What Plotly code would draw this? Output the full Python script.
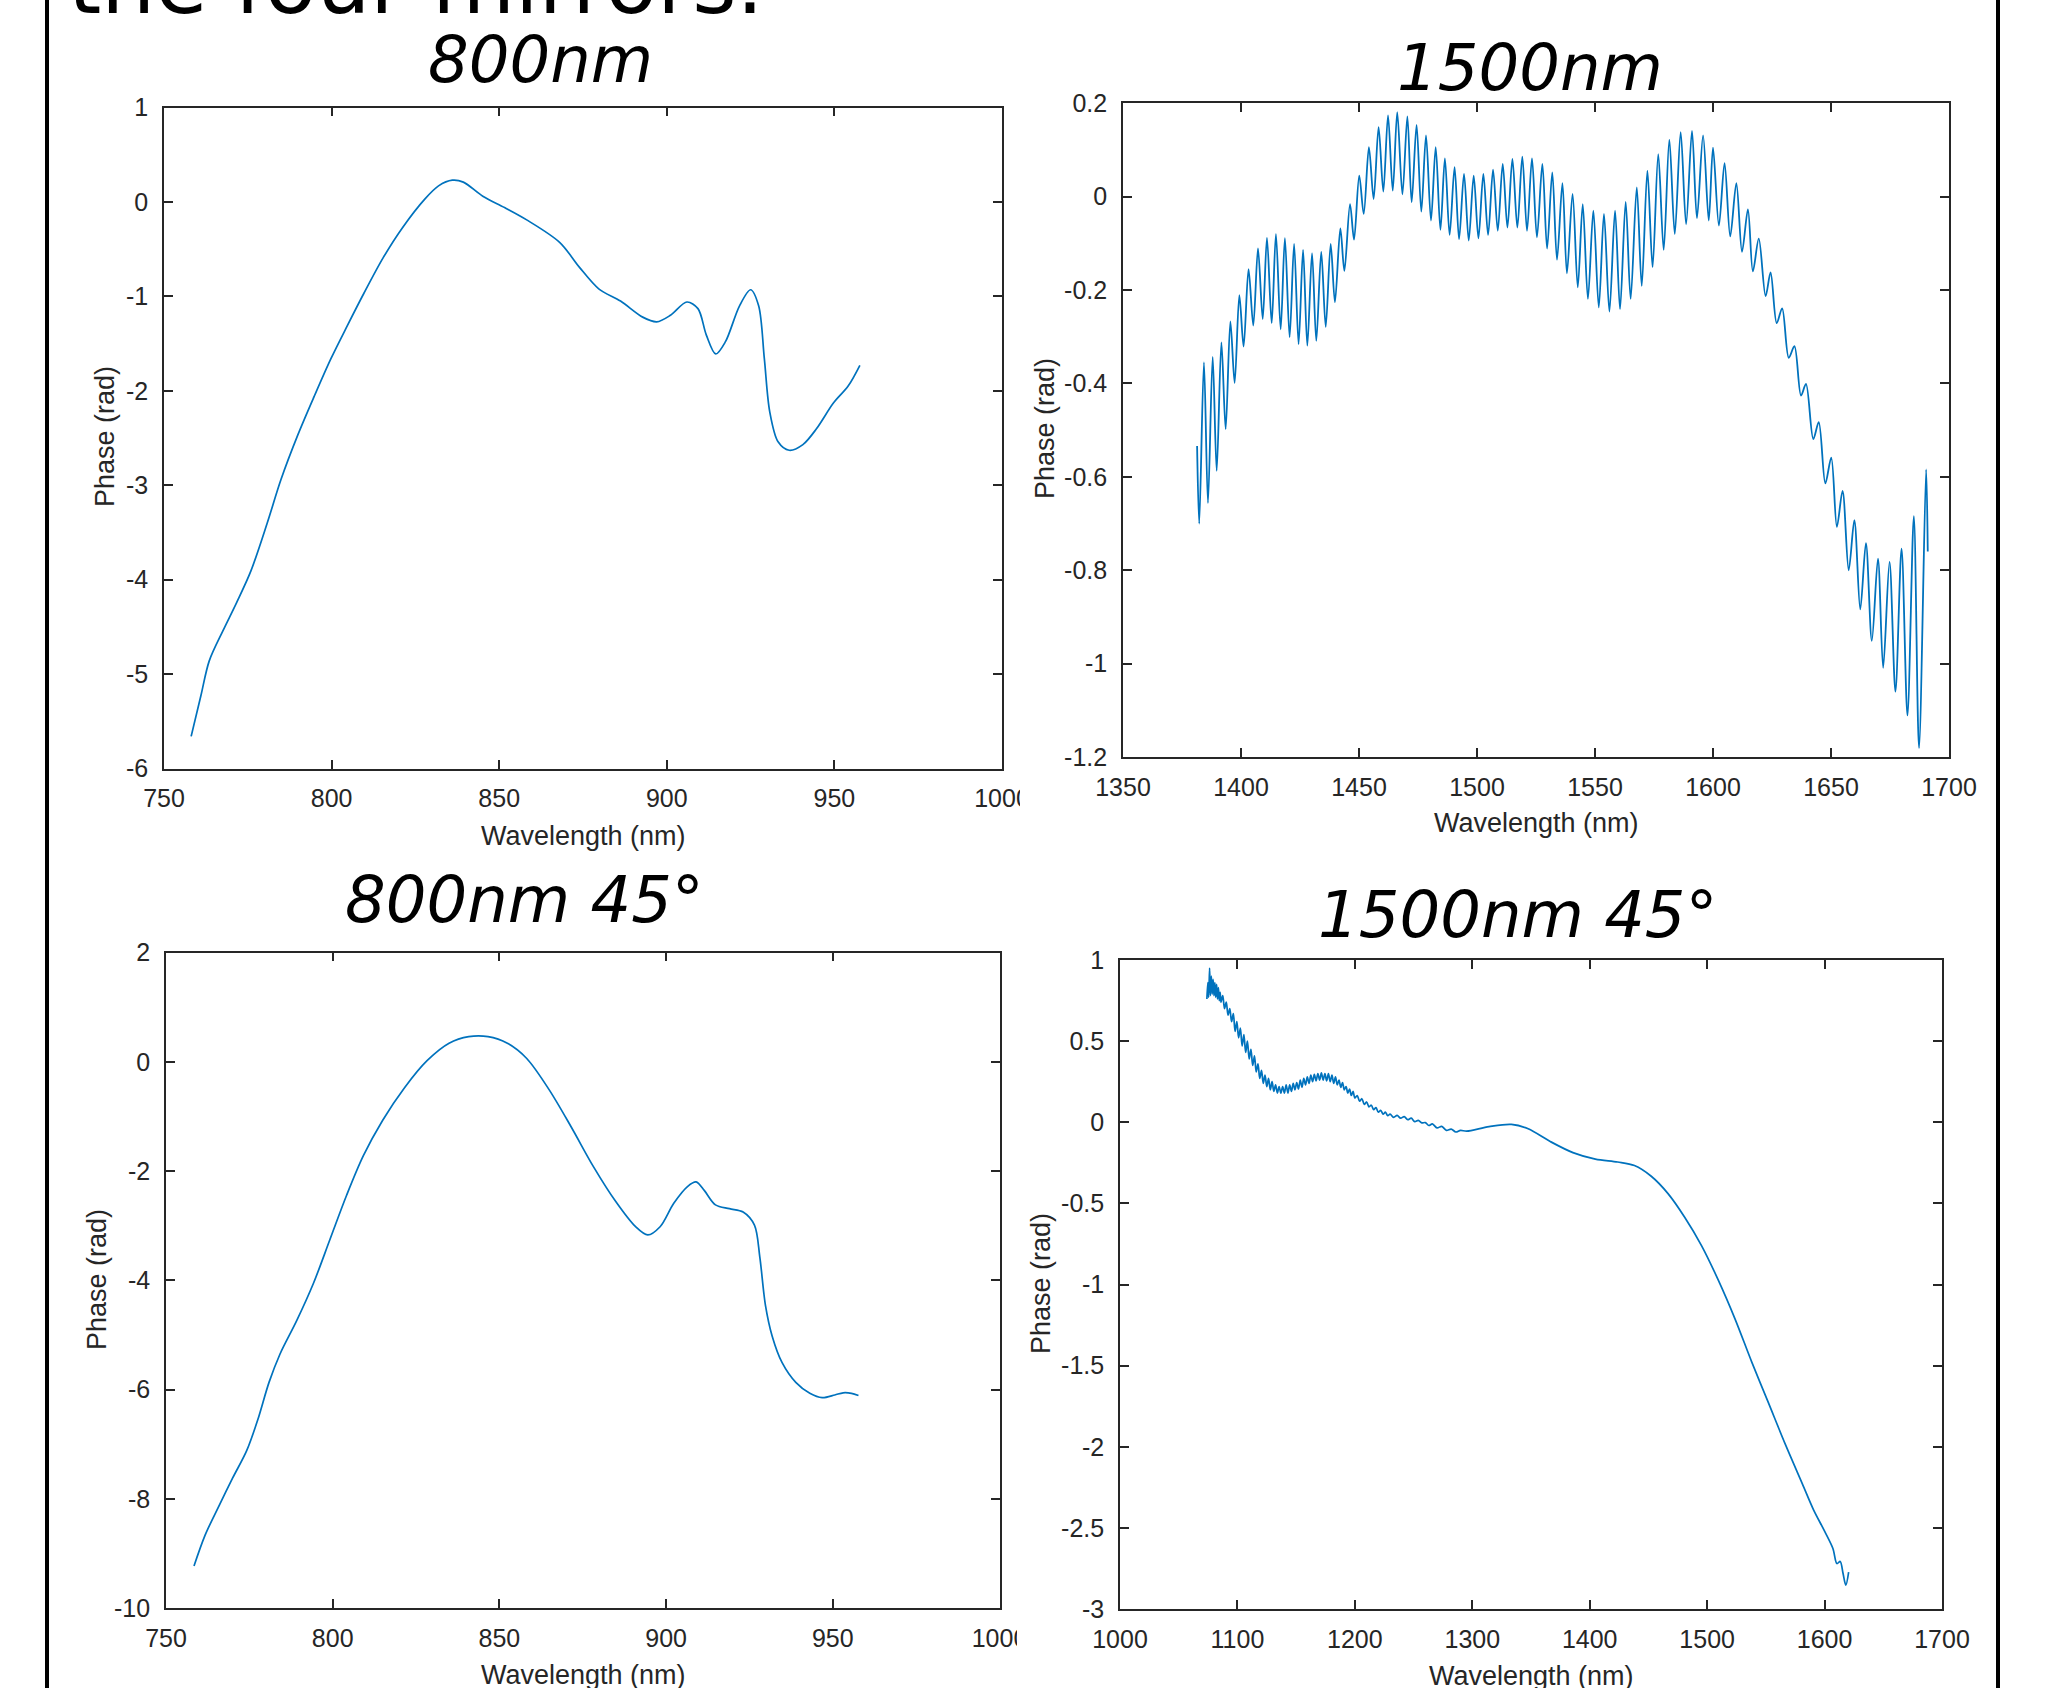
import plotly.graph_objects as go

W, H = 2056, 1688

# ---------------- data ----------------
TL_WL = [758.1, 761.0, 763.5, 767.6, 771.7, 775.9, 780.8, 784.9, 789.9, 794.8, 799.8, 804.7,
         809.6, 815.4, 821.2, 827.8, 831.9, 836.0, 839.3, 845.1, 851.6, 858.2, 868.1, 873.9,
         879.7, 886.2, 892.8, 897.0, 901.1, 906.0, 909.3, 911.8, 914.6, 917.5, 921.7, 925.0,
         927.4, 929.1, 930.7, 933.2, 936.5, 940.6, 944.7, 949.7, 954.1, 957.6]
TL_PH = [-5.66, -5.23, -4.86, -4.54, -4.24, -3.91, -3.40, -2.94, -2.47, -2.06, -1.66, -1.31,
         -0.97, -0.59, -0.27, 0.03, 0.17, 0.23, 0.21, 0.06, -0.06, -0.19, -0.43, -0.69,
         -0.92, -1.05, -1.22, -1.27, -1.20, -1.06, -1.13, -1.41, -1.61, -1.48, -1.10, -0.93,
         -1.10, -1.66, -2.22, -2.54, -2.63, -2.57, -2.40, -2.13, -1.95, -1.73]

TR_WL = [1381.4, 1382.3, 1384.3, 1386.0, 1388.0, 1389.7, 1391.7, 1393.5, 1395.5, 1397.3,
         1399.3, 1401.1, 1403.2, 1405.2, 1407.2, 1409.2, 1411.0, 1413.0, 1414.8, 1416.8,
         1418.6, 1420.6, 1422.5, 1424.4, 1426.3, 1428.1, 1430.1, 1431.9, 1434.0, 1435.9,
         1438.0, 1439.8, 1442.1, 1443.8, 1446.2, 1447.9, 1450.1, 1452.0, 1454.2, 1456.2,
         1458.3, 1460.3, 1462.3, 1464.3, 1466.2, 1468.4, 1470.5, 1472.3, 1474.4, 1476.4,
         1478.4, 1480.5, 1482.5, 1484.5, 1486.4, 1488.4, 1490.5, 1492.4, 1494.5, 1496.5,
         1498.6, 1500.6, 1502.7, 1504.7, 1506.8, 1508.8, 1510.9, 1512.9, 1515.0, 1517.1,
         1519.2, 1521.2, 1523.3, 1525.4, 1527.7, 1529.7, 1531.9, 1533.9, 1536.2, 1538.1,
         1540.5, 1542.7, 1544.8, 1547.0, 1549.3, 1551.6, 1553.8, 1556.1, 1558.5, 1560.6,
         1563.0, 1565.1, 1567.7, 1569.8, 1572.2, 1574.4, 1576.8, 1579.1, 1581.5, 1583.8,
         1586.3, 1588.6, 1591.1, 1593.2, 1595.8, 1598.2, 1600.0, 1602.5, 1604.9, 1607.3,
         1609.9, 1612.3, 1614.8, 1616.9, 1619.4, 1622.3, 1624.4, 1627.0, 1629.3, 1632.1,
         1634.5, 1637.3, 1639.4, 1642.5, 1644.8, 1647.6, 1650.1, 1652.5, 1654.9, 1657.5,
         1659.9, 1662.4, 1664.8, 1667.3, 1669.9, 1672.1, 1674.8, 1677.3, 1679.9, 1682.4,
         1685.1, 1687.3, 1690.3, 1691.0]
TR_PH = [-0.534, -0.700, -0.355, -0.656, -0.343, -0.587, -0.312, -0.498, -0.267, -0.399,
         -0.211, -0.321, -0.155, -0.276, -0.111, -0.262, -0.088, -0.271, -0.080, -0.284,
         -0.089, -0.301, -0.101, -0.316, -0.114, -0.319, -0.121, -0.309, -0.118, -0.279,
         -0.101, -0.226, -0.068, -0.159, -0.016, -0.092, 0.045, -0.037, 0.106, -0.005,
         0.149, 0.011, 0.174, 0.013, 0.181, 0.005, 0.172, -0.012, 0.154, -0.032,
         0.131, -0.051, 0.106, -0.071, 0.082, -0.082, 0.063, -0.091, 0.049, -0.094,
         0.045, -0.089, 0.049, -0.082, 0.058, -0.073, 0.070, -0.066, 0.081, -0.066,
         0.086, -0.073, 0.082, -0.087, 0.070, -0.111, 0.052, -0.135, 0.029, -0.164,
         0.006, -0.194, -0.016, -0.219, -0.030, -0.237, -0.037, -0.246, -0.030, -0.241,
         -0.011, -0.219, 0.020, -0.191, 0.056, -0.151, 0.091, -0.114, 0.122, -0.080,
         0.138, -0.059, 0.141, -0.046, 0.131, -0.051, 0.105, -0.062, 0.072, -0.085,
         0.029, -0.118, -0.027, -0.160, -0.090, -0.213, -0.162, -0.271, -0.239, -0.345,
         -0.320, -0.426, -0.401, -0.519, -0.483, -0.614, -0.559, -0.707, -0.630, -0.800,
         -0.693, -0.884, -0.742, -0.951, -0.775, -1.009, -0.782, -1.060, -0.754, -1.111,
         -0.684, -1.181, -0.584, -0.760]

BL_WL = [758.4, 761.7, 765.9, 770.0, 774.2, 777.5, 780.9, 784.2, 789.2, 794.2, 799.2, 804.2,
         809.2, 815.0, 821.6, 828.3, 834.9, 840.8, 846.6, 852.4, 858.2, 864.9, 871.5, 878.2,
         884.9, 890.7, 894.5, 898.2, 902.3, 906.5, 909.0, 911.5, 914.8, 919.0, 923.1, 926.5,
         928.1, 929.8, 931.8, 934.8, 938.9, 943.1, 946.8, 950.6, 953.1, 955.6, 957.7]
BL_PH = [-9.23, -8.67, -8.13, -7.62, -7.12, -6.56, -5.87, -5.35, -4.74, -4.06, -3.25, -2.44,
         -1.72, -1.07, -0.47, 0.02, 0.34, 0.46, 0.46, 0.34, 0.06, -0.51, -1.19, -1.92,
         -2.56, -3.01, -3.17, -3.02, -2.59, -2.28, -2.20, -2.36, -2.62, -2.69, -2.75, -2.99,
         -3.57, -4.46, -5.02, -5.51, -5.87, -6.07, -6.15, -6.10, -6.06, -6.07, -6.11]

BR_WL = [1074.0, 1074.8, 1075.5, 1076.3, 1077.0, 1077.8, 1078.5, 1079.3, 1080.0, 1080.8,
         1081.5, 1082.3, 1083.0, 1083.8, 1084.5, 1085.3, 1086.0, 1087.5, 1089.0, 1090.5,
         1092.0, 1093.5, 1095.0, 1096.5, 1098.0, 1099.5, 1101.0, 1102.5, 1104.0, 1105.5,
         1107.0, 1108.5, 1110.0, 1111.5, 1113.0, 1114.5, 1116.0, 1117.5, 1119.0, 1120.5,
         1122.0, 1123.5, 1125.0, 1126.5, 1128.0, 1129.5, 1131.0, 1132.5, 1134.0, 1135.5,
         1137.0, 1138.5, 1140.0, 1141.5, 1143.0, 1144.5, 1146.0, 1147.5, 1149.0, 1150.5,
         1152.0, 1153.5, 1155.0, 1156.5, 1158.0, 1159.5, 1161.0, 1162.5, 1164.0, 1165.5,
         1167.0, 1168.5, 1170.0, 1171.5, 1173.0, 1174.5, 1176.0, 1177.5, 1179.0, 1180.5,
         1182.0, 1183.5, 1185.0, 1186.5, 1188.0, 1189.5, 1191.0, 1192.5, 1194.0, 1195.5,
         1197.0, 1198.5, 1200.0, 1202.0, 1204.0, 1206.0, 1208.0, 1210.0, 1212.0, 1214.0,
         1216.0, 1218.0, 1220.0, 1222.0, 1224.0, 1226.0, 1228.0, 1230.0, 1233.0, 1236.0,
         1239.0, 1242.0, 1245.0, 1248.0, 1251.0, 1254.0, 1257.0, 1260.0, 1263.0, 1266.0,
         1270.0, 1274.0, 1278.0, 1282.0, 1286.0, 1290.0, 1295.2, 1314.3, 1333.3, 1347.6,
         1366.7, 1385.7, 1404.8, 1423.8, 1438.1, 1452.4, 1466.7, 1481.0, 1495.2, 1509.5,
         1523.8, 1538.1, 1552.4, 1566.7, 1581.0, 1590.5, 1600.0, 1607.1, 1610.5, 1613.3,
         1615.7, 1618.1, 1620.5]
BR_PH = [0.76, 0.86, 0.77, 0.95, 0.78, 0.90, 0.79, 0.88, 0.78, 0.86,
         0.77, 0.85, 0.76, 0.83, 0.75, 0.80, 0.74, 0.78, 0.70, 0.74,
         0.66, 0.70, 0.62, 0.67, 0.56, 0.62, 0.52, 0.58, 0.47, 0.54,
         0.43, 0.50, 0.39, 0.45, 0.35, 0.41, 0.31, 0.36, 0.27, 0.32,
         0.24, 0.29, 0.22, 0.27, 0.20, 0.25, 0.19, 0.23, 0.18, 0.22,
         0.18, 0.22, 0.18, 0.23, 0.18, 0.23, 0.19, 0.24, 0.20, 0.245,
         0.205, 0.26, 0.215, 0.27, 0.23, 0.28, 0.24, 0.29, 0.25, 0.295,
         0.255, 0.30, 0.26, 0.305, 0.26, 0.30, 0.255, 0.30, 0.25, 0.29,
         0.24, 0.28, 0.23, 0.26, 0.215, 0.245, 0.20, 0.22, 0.18, 0.205,
         0.165, 0.19, 0.15, 0.165, 0.13, 0.145, 0.11, 0.125, 0.095, 0.105,
         0.078, 0.09, 0.062, 0.074, 0.05, 0.062, 0.04, 0.05, 0.03, 0.042,
         0.025, 0.035, 0.016, 0.025, 0.004, 0.012, -0.004, -0.002, -0.02, -0.01,
         -0.035, -0.025, -0.05, -0.042, -0.06, -0.05, -0.055, -0.027, -0.013, -0.04,
         -0.12, -0.187, -0.227, -0.245, -0.267, -0.333, -0.44, -0.587, -0.76, -0.973,
         -1.213, -1.48, -1.733, -1.987, -2.227, -2.387, -2.52, -2.627, -2.72, -2.707,
         -2.78, -2.853, -2.773]

# tick values / labels
X800_TICKS = [750, 800, 850, 900, 950, 1000]
X800_LABELS = ["750", "800", "850", "900", "950", "1000"]
TL_YTICKS = [1, 0, -1, -2, -3, -4, -5, -6]
TL_YLABELS = ["1", "0", "-1", "-2", "-3", "-4", "-5", "-6"]
TR_XTICKS = [1350, 1400, 1450, 1500, 1550, 1600, 1650, 1700]
TR_XLABELS = ["1350", "1400", "1450", "1500", "1550", "1600", "1650", "1700"]
TR_YTICKS = [0.2, 0, -0.2, -0.4, -0.6, -0.8, -1.0, -1.2]
TR_YLABELS = ["0.2", "0", "-0.2", "-0.4", "-0.6", "-0.8", "-1", "-1.2"]
BL_YTICKS = [2, 0, -2, -4, -6, -8, -10]
BL_YLABELS = ["2", "0", "-2", "-4", "-6", "-8", "-10"]
BR_XTICKS = [1000, 1100, 1200, 1300, 1400, 1500, 1600, 1700]
BR_XLABELS = ["1000", "1100", "1200", "1300", "1400", "1500", "1600", "1700"]
BR_YTICKS = [1, 0.5, 0, -0.5, -1, -1.5, -2, -2.5, -3]
BR_YLABELS = ["1", "0.5", "0", "-0.5", "-1", "-1.5", "-2", "-2.5", "-3"]

TITLES = ["800nm", "1500nm", "800nm 45°", "1500nm 45°"]
SLIDE_TITLE = "the four mirrors."
X_TITLE = "Wavelength (nm)"
Y_TITLE = "Phase (rad)"

# ---------------- layout helpers ----------------
def X(px):
    return px / W

def Y(py):
    return 1 - py / H

BLUE = "#0072BD"
AX = "#262626"
TICKFONT = dict(family="Liberation Sans, Arial, sans-serif", size=25, color=AX)
LABELFONT = dict(family="Liberation Sans, Arial, sans-serif", size=27, color=AX)
TITLEFONT = dict(family="DejaVu Sans, Verdana, sans-serif", size=64, color="black", style="italic")

panels = [
    dict(box=(164, 1002, 107.5, 768.5), xr=[750, 1000], yr=[-6, 1],
         xt=X800_TICKS, xl=X800_LABELS, yt=TL_YTICKS, yl=TL_YLABELS,
         wl=TL_WL, ph=TL_PH, lw=1.7, title=(540, 60), xtitle=(583, 836), ytitle=(105, 437)),
    dict(box=(1123, 1949, 103.3, 757), xr=[1350, 1700], yr=[-1.2, 0.2],
         xt=TR_XTICKS, xl=TR_XLABELS, yt=TR_YTICKS, yl=TR_YLABELS,
         wl=TR_WL, ph=TR_PH, lw=1.8, title=(1530, 68), xtitle=(1536, 823), ytitle=(1045, 429)),
    dict(box=(166, 999.5, 952.5, 1608), xr=[750, 1000], yr=[-10, 2],
         xt=X800_TICKS, xl=X800_LABELS, yt=BL_YTICKS, yl=BL_YLABELS,
         wl=BL_WL, ph=BL_PH, lw=1.7, title=(524, 900), xtitle=(583, 1675), ytitle=(97, 1280)),
    dict(box=(1120, 1942, 960, 1609), xr=[1000, 1700], yr=[-3, 1],
         xt=BR_XTICKS, xl=BR_XLABELS, yt=BR_YTICKS, yl=BR_YLABELS,
         wl=BR_WL, ph=BR_PH, lw=1.7, title=(1518, 915), xtitle=(1531, 1676), ytitle=(1041, 1284)),
]

fig = go.Figure()
annotations = []
layout_axes = {}

for i, p in enumerate(panels):
    n = "" if i == 0 else str(i + 1)
    x0, x1, y0, y1 = p["box"]
    fig.add_trace(go.Scatter(
        x=p["wl"], y=p["ph"], mode="lines",
        line=dict(color=BLUE, width=p["lw"], shape="spline", smoothing=0.9),
        xaxis="x" + n, yaxis="y" + n, showlegend=False, hoverinfo="skip"))
    common = dict(showline=True, linecolor=AX, linewidth=1.6, mirror="ticks",
                  ticks="inside", ticklen=9, tickwidth=1.5, tickcolor=AX,
                  showgrid=False, zeroline=False, tickfont=TICKFONT, automargin=False,
                  tickmode="array", fixedrange=True)
    layout_axes["xaxis" + n] = dict(common, domain=[X(x0), X(x1)], range=p["xr"],
                                    tickvals=p["xt"], ticktext=p["xl"],
                                    anchor="y" + n, ticklabelstandoff=7)
    layout_axes["yaxis" + n] = dict(common, domain=[Y(y1), Y(y0)], range=p["yr"],
                                    tickvals=p["yt"], ticktext=p["yl"],
                                    anchor="x" + n, ticklabelstandoff=9)
    tx, ty = p["title"]
    annotations.append(dict(text=TITLES[i], x=X(tx), y=Y(ty), xref="paper", yref="paper",
                            xanchor="center", yanchor="middle", showarrow=False, font=TITLEFONT))
    ax_, ay_ = p["xtitle"]
    annotations.append(dict(text=X_TITLE, x=X(ax_), y=Y(ay_), xref="paper", yref="paper",
                            xanchor="center", yanchor="middle", showarrow=False, font=LABELFONT))
    bx_, by_ = p["ytitle"]
    annotations.append(dict(text=Y_TITLE, x=X(bx_), y=Y(by_), xref="paper", yref="paper",
                            xanchor="center", yanchor="middle", showarrow=False,
                            textangle=-90, font=LABELFONT))

annotations.append(dict(text=SLIDE_TITLE, x=X(66), y=Y(-16.5), xref="paper", yref="paper",
                        xanchor="left", yanchor="middle", showarrow=False,
                        font=dict(family="DejaVu Sans, Verdana, sans-serif", size=85, color="black")))

shapes = [
    # slide frame lines
    dict(type="line", xref="paper", yref="paper", x0=X(47), x1=X(47), y0=0, y1=1,
         line=dict(color="black", width=4)),
    dict(type="line", xref="paper", yref="paper", x0=X(1998), x1=X(1998), y0=0, y1=1,
         line=dict(color="black", width=4)),
    # cropped right edges of the left images (clip the "1000" labels)
    dict(type="rect", xref="paper", yref="paper", x0=X(1020), x1=X(1050), y0=Y(815), y1=Y(775),
         fillcolor="white", line=dict(width=0), layer="above"),
    dict(type="rect", xref="paper", yref="paper", x0=X(1017), x1=X(1050), y0=Y(1660), y1=Y(1615),
         fillcolor="white", line=dict(width=0), layer="above"),
]

fig.update_layout(
    template="none",
    width=W, height=H, margin=dict(l=0, r=0, t=0, b=0, pad=0, autoexpand=False),
    paper_bgcolor="white", plot_bgcolor="white",
    annotations=annotations, shapes=shapes, **layout_axes)

fig.write_html("out.html", config={"displayModeBar": False},
               post_script="document.body.style.margin='0';document.body.style.overflow='hidden';")
